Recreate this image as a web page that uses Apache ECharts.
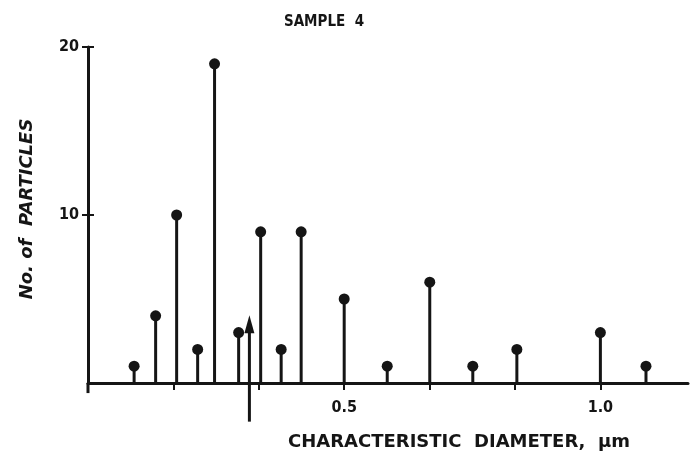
<!DOCTYPE html>
<html>
<head>
<meta charset="utf-8">
<title>Sample 4</title>
<script src="https://cdn.jsdelivr.net/npm/echarts@6/dist/echarts.min.js"></script>
<style>
  html, body { margin: 0; padding: 0; background: #fff; }
  #chart { width: 699px; height: 466px; }
</style>
</head>
<body>
<div id="chart"></div>
<script>
// diameters (um) and particle counts
var diameters = [0.09, 0.132, 0.173, 0.214, 0.247, 0.294, 0.337, 0.377, 0.416, 0.5, 0.584, 0.667, 0.751, 0.837, 1.0, 1.089];
var counts    = [1, 4, 10, 2, 19, 3, 9, 2, 9, 5, 1, 6, 1, 2, 3, 1];
// the arrow mark near 0.31 um
var arrowX = 0.315;
var arrowTop = 4;
var arrowBottom = -2.3;
var xTicks = [1 / 6, 2 / 6, 0.5, 4 / 6, 5 / 6, 1.0];
var xLabels = [0.5, 1.0];
var yTicks = [10, 20];

var ink = '#151515';
var font = 'DejaVu Sans Condensed';

var points = diameters.map(function (d, i) { return [d, counts[i]]; });

var chart = echarts.init(document.getElementById('chart'));
chart.setOption({
  animation: false,
  title: {
    text: 'SAMPLE  4',
    left: 319, top: 10, textAlign: 'center',
    textStyle: { fontFamily: font, fontWeight: 'bold', fontSize: 15, color: ink }
  },
  grid: { left: 88, right: 11, top: 47, bottom: 83 },
  xAxis: {
    type: 'value', min: 0, max: 1.171,
    splitLine: { show: false },
    axisLine: { lineStyle: { color: ink, width: 3 } },
    axisTick: { customValues: xTicks, length: 7, lineStyle: { color: ink, width: 2 } },
    axisLabel: {
      customValues: xLabels, margin: 17,
      formatter: function (v) { return v.toFixed(1); },
      fontFamily: font, fontWeight: 'bold', fontSize: 16, color: ink
    },
    name: 'CHARACTERISTIC  DIAMETER,  \u03bcm',
    nameLocation: 'middle', nameGap: 50,
    nameTextStyle: { fontFamily: 'DejaVu Sans', fontWeight: 'bold', fontSize: 18, color: ink, padding: [0, 0, 0, 142] }
  },
  yAxis: [{
    type: 'value', min: 0, max: 20,
    splitLine: { show: false },
    axisLine: { show: true, lineStyle: { color: ink, width: 3 } },
    axisTick: { show: true, customValues: yTicks, length: 6, lineStyle: { color: ink, width: 2 } },
    axisLabel: {
      customValues: yTicks, margin: 9,
      fontFamily: font, fontWeight: 'bold', fontSize: 16, color: ink
    },
    name: 'No. of  PARTICLES',
    nameLocation: 'middle', nameGap: 52, nameRotate: 90,
    nameTextStyle: { fontFamily: 'DejaVu Sans', fontWeight: 'bold', fontStyle: 'italic', fontSize: 18, color: ink, padding: [0, 0, 0, 12] }
  }, {
    type: 'value', min: 0, max: 20, position: 'left',
    splitLine: { show: false },
    axisLine: { show: false },
    axisTick: { show: true, inside: true, customValues: yTicks, length: 6, lineStyle: { color: ink, width: 2 } },
    axisLabel: { show: false }
  }],
  series: [{
    type: 'bar',
    data: points,
    barWidth: 3,
    itemStyle: { color: ink }
  }, {
    type: 'scatter',
    data: points,
    symbol: 'circle',
    symbolSize: 11,
    itemStyle: { color: ink, opacity: 1 },
    z: 3
  }, {
    // y axis runs a little below the x axis
    type: 'line',
    data: [[0, 0], [0, -0.6]],
    clip: false,
    symbol: 'none',
    lineStyle: { color: ink, width: 3 }
  }, {
    type: 'line',
    data: [[arrowX, arrowBottom], [arrowX, arrowTop - 0.6]],
    clip: false,
    symbol: 'none',
    lineStyle: { color: ink, width: 3 }
  }, {
    type: 'scatter',
    data: [[arrowX, arrowTop - 0.5]],
    symbol: 'triangle',
    symbolSize: [10, 18],
    itemStyle: { color: ink, opacity: 1 },
    z: 3
  }]
});
</script>
</body>
</html>
